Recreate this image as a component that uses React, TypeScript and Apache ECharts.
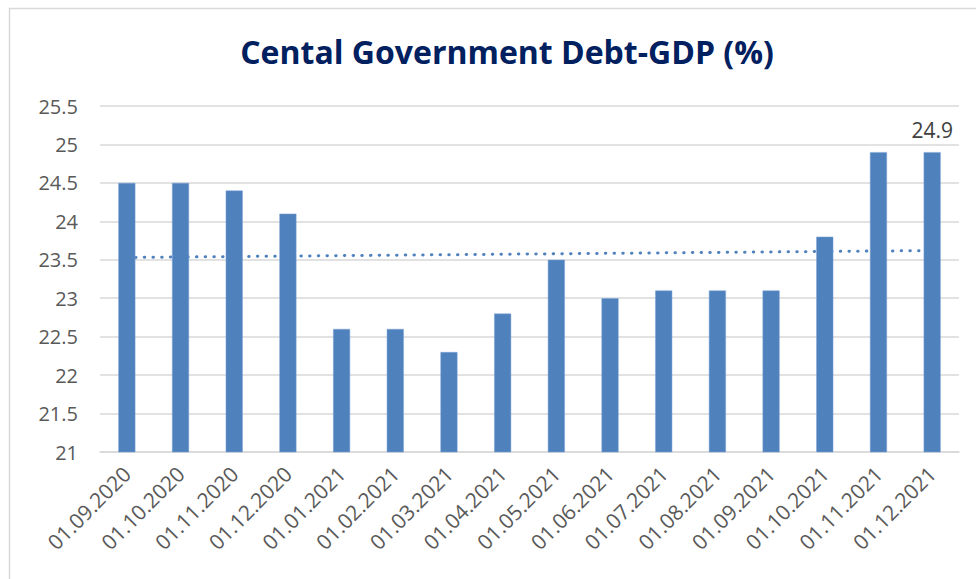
import React, { useEffect, useRef } from "react";
import * as echarts from "echarts";

const title = "Cental Government Debt-GDP (%)";
const categories = [
  "01.09.2020", "01.10.2020", "01.11.2020", "01.12.2020",
  "01.01.2021", "01.02.2021", "01.03.2021", "01.04.2021",
  "01.05.2021", "01.06.2021", "01.07.2021", "01.08.2021",
  "01.09.2021", "01.10.2021", "01.11.2021", "01.12.2021",
];
const debtGdp = [24.5, 24.5, 24.4, 24.1, 22.6, 22.6, 22.3, 22.8, 23.5, 23.0, 23.1, 23.1, 23.1, 23.8, 24.9, 24.9];
// Linear trendline end points
const trendStart = 23.53;
const trendEnd = 23.62;
const labelledIndex = [15];

const FONT = "'Open Sans', sans-serif";

export default function App() {
  const ref = useRef<HTMLDivElement>(null);
  useEffect(() => {
    if (!ref.current) return;
    const chart = echarts.init(ref.current, null, { renderer: "svg" });
    const blue = "#4F81BD";
    chart.setOption({
      animation: false,
      backgroundColor: "#ffffff",
      title: {
        text: title,
        left: 502,
        top: 30,
        textAlign: "center",
        textStyle: {
          fontFamily: FONT,
          fontWeight: "bold",
          fontSize: 32,
          color: "#002060",
        },
      },
      graphic: [
        {
          type: "rect",
          shape: { x: 9.5, y: 8.5, width: 1000, height: 600 },
          style: { fill: "none", stroke: "#D9D9D9", lineWidth: 1.5 },
          z: -10,
        },
      ],
      grid: { left: 100, right: 17, top: 106, bottom: 127 },
      xAxis: {
        type: "category",
        data: categories,
        axisLine: { lineStyle: { color: "#D9D9D9", width: 1.5 } },
        axisTick: { show: false },
        axisLabel: {
          rotate: 45,
          interval: 0,
          margin: 18,
          fontSize: 21,
          color: "#595959",
          fontFamily: FONT,
        },
      },
      yAxis: {
        type: "value",
        min: 21,
        max: 25.5,
        interval: 0.5,
        axisLine: { show: false },
        axisTick: { show: false },
        splitLine: { lineStyle: { color: "#D9D9D9", width: 1.5 } },
        axisLabel: {
          fontSize: 20,
          color: "#595959",
          margin: 22,
          fontFamily: FONT,
        },
      },
      series: [
        {
          type: "line",
          data: [
            [categories[0], trendStart],
            [categories[categories.length - 1], trendEnd],
          ],
          symbol: "none",
          z: 1,
          lineStyle: { color: blue, width: 3, type: [0.5, 8.2], cap: "round" },
          silent: true,
        },
        {
          type: "bar",
          z: 2,
          barWidth: 17,
          itemStyle: { color: blue, borderColor: "#7ba3d6", borderWidth: 0.5 },
          data: debtGdp.map((v, i) => ({
            value: v,
            label: labelledIndex.includes(i)
              ? {
                  show: true,
                  position: "top",
                  distance: 12,
                  fontSize: 21,
                  color: "#404040",
                  fontFamily: FONT,
                }
              : { show: false },
          })),
        },
      ],
    });
    return () => chart.dispose();
  }, []);
  return (
    <div
      ref={ref}
      style={{ position: "absolute", left: 0, top: 0, width: 976, height: 579 }}
    />
  );
}
